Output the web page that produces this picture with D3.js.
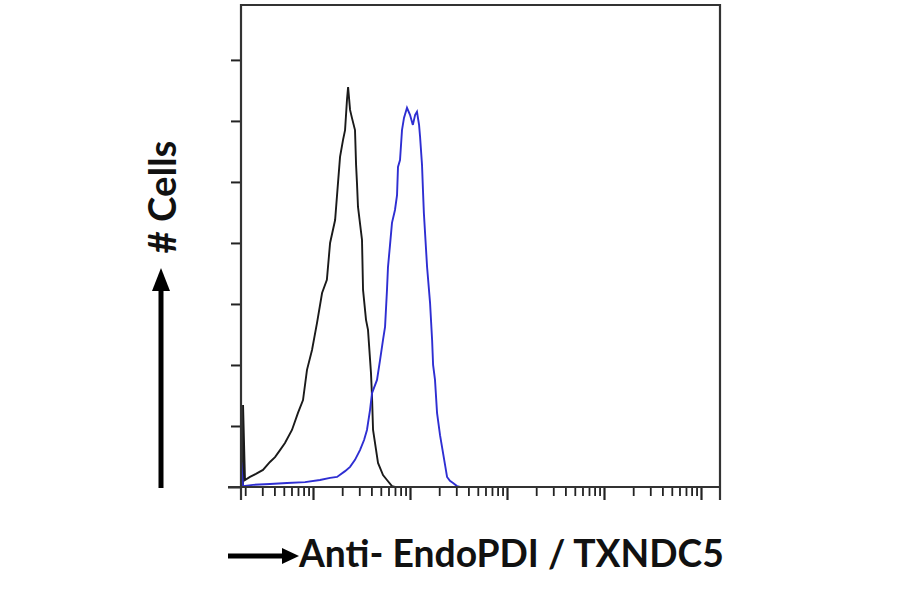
<!DOCTYPE html>
<html><head><meta charset="utf-8">
<script src="https://cdn.jsdelivr.net/npm/d3@7"></script>
<style>body{margin:0;background:#fff}</style>
</head><body><svg id="c" width="900" height="594"></svg>
<script>
// Isotype control histogram (black): fluorescence intensity vs # cells
const controlX = [1.90,1.90,1.99,2.24,2.58,3.05,3.60,4.06,4.57,5.14,6.07,7.00,7.89,8.67,9.77,11.0,12.4,13.9,15.0,16.9,18.1,19.0,20.4,21.4,22.4,23.0,24.1,25.2,27.1,27.8,28.4,29.1,32.0,32.8,35.2,36.9,39.6,40.6,41.6,46.8,52.7,57.9,65.2,70.0,157000];
const controlY = [0,26.9,2.3,3.3,4.3,5.6,8.2,9.8,12.1,14.4,18.7,24.3,28.5,38.4,44.9,53.8,63.6,67.9,80.0,87.5,99.7,108.2,113.8,117.0,126.9,131.1,123.6,121.0,117.0,105.6,99.7,91.8,81.0,64.6,54.8,51.5,37.4,29.5,18.7,7.9,3.9,2.3,0.3,0,0];
// Anti-EndoPDI stained histogram (blue)
const stainedX = [1.82,1.82,1.90,2.41,3.60,5.40,8.27,11.8,15.0,17.7,21.4,24.1,27.1,30.5,33.6,36.0,38.7,40.6,45.7,49.1,52.7,55.3,57.9,59.3,62.2,65.2,70.0,73.5,75.2,78.9,82.7,86.7,93.1,100,107,113,118,124,127,133,136,139,150,161,169,173,181,190,204,214,230,241,258,278,305,328,157000];
const stainedY = [0,8.2,0.3,0.7,1.0,1.3,1.6,2.3,3.0,3.3,5.2,6.6,8.9,12.1,15.4,18.7,25.2,30.8,35.1,41.6,48.2,52.5,64.6,72.1,79.3,86.6,90.8,95.7,104.9,107.2,117.0,121.0,124.3,122.0,118.7,122.0,123.0,118.7,114.8,105.6,97.4,89.8,72.1,60.3,48.2,40.0,35.1,24.3,17.0,13.1,7.2,3.3,2.0,1.3,0.3,0,0];
const xDomain = [1.81, 157000];
const yDomain = [0, 158];
const yTickValues = [0,20,40,60,80,100,120,140];
const xLabel = "Anti- EndoPDI / TXNDC5";
const yLabel = "# Cells";

const svg = d3.select("#c");
const L = 241, R = 720, T = 5, B = 487;
const x = d3.scaleLog().domain(xDomain).range([L, R]);
const y = d3.scaleLinear().domain(yDomain).range([B, T]);
const FONT = "Lato, 'Open Sans', sans-serif";

svg.append("defs").append("clipPath").attr("id","clip")
  .append("rect").attr("x", L).attr("y", T).attr("width", R-L).attr("height", B-T);

// y axis ticks
const yAxis = d3.axisLeft(y).tickValues(yTickValues).tickSize(10).tickSizeOuter(0).tickFormat("");
const gy = svg.append("g").attr("transform", `translate(${L},0)`).call(yAxis);
gy.select(".domain").remove();
gy.selectAll(".tick line").attr("stroke", "#222").attr("stroke-width", 2);
gy.selectAll(".tick").filter(d => d === 0).select("line").attr("x2", -13);

// x axis ticks (log)
const xTicks = x.ticks().filter(v => v >= xDomain[0] && v <= xDomain[1]);
const xAxis = d3.axisBottom(x).tickValues(xTicks).tickSize(9).tickSizeOuter(0).tickFormat("");
const gx = svg.append("g").attr("transform", `translate(0,${B})`).call(xAxis);
gx.select(".domain").remove();
gx.selectAll(".tick line").attr("stroke", "#222").attr("stroke-width", 1.8);
gx.selectAll(".tick").filter(d => Math.abs(Math.log10(d) - Math.round(Math.log10(d))) < 1e-9)
  .select("line").attr("y2", 13).attr("stroke-width", 2.2);

// curves
const line = d3.line().x(d => x(d[0])).y(d => y(d[1]));
const plot = svg.append("g").attr("clip-path", "url(#clip)");
plot.append("path").datum(d3.zip(controlX, controlY))
  .attr("d", line).attr("fill", "none").attr("stroke", "#1a1a1a").attr("stroke-width", 1.9);
plot.append("path").datum(d3.zip(stainedX, stainedY))
  .attr("d", line).attr("fill", "none").attr("stroke", "#2e2ed2").attr("stroke-width", 1.9);

// frame
svg.append("path")
  .attr("d", `M${L},${B+13}V${T}H${R}V${B+13}M${L-13},${B}H${R}`)
  .attr("fill", "none").attr("stroke", "#333").attr("stroke-width", 2.2);

// y label with arrow
svg.append("line").attr("x1", 161).attr("x2", 161).attr("y1", 488).attr("y2", 288)
  .attr("stroke", "#000").attr("stroke-width", 5);
svg.append("path").attr("d", "M161,268L152,291L170,291Z").attr("fill", "#000");
const yl = svg.append("text").text(yLabel)
  .attr("transform", "translate(161,197) rotate(-90)")
  .attr("text-anchor", "middle").attr("dominant-baseline", "central")
  .attr("font-family", FONT).attr("font-weight", 700).attr("font-size", 28).attr("fill", "#111");
let w = yl.node().getComputedTextLength();
yl.attr("font-size", 28 * 113 / w);

// x label with arrow
svg.append("line").attr("x1", 228).attr("x2", 286).attr("y1", 556).attr("y2", 556)
  .attr("stroke", "#000").attr("stroke-width", 5);
svg.append("path").attr("d", "M299,556L282,548L282,564Z").attr("fill", "#000");
const xl = svg.append("text").text(xLabel)
  .attr("x", 299).attr("y", 567)
  .attr("font-family", FONT).attr("font-weight", 700).attr("font-size", 30).attr("fill", "#111");
w = xl.node().getComputedTextLength();
xl.attr("font-size", 30 * 425 / w);
</script>
</body></html>
